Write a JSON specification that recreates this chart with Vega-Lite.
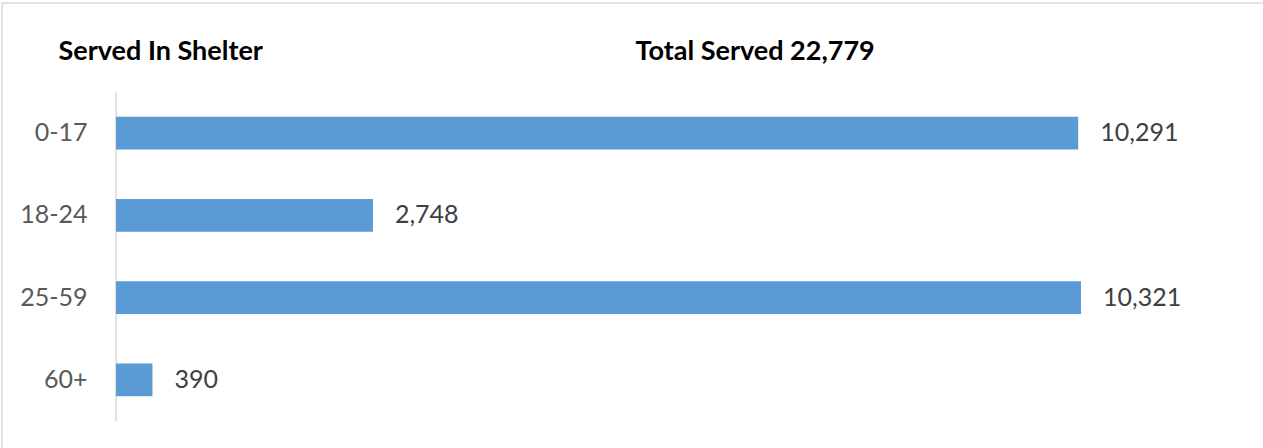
{
  "$schema": "https://vega.github.io/schema/vega-lite/v6.json",
  "autosize": "none",
  "width": 1275,
  "height": 460,
  "padding": {"left": 2, "top": 3, "right": -14, "bottom": -15},
  "background": "white",
  "config": {
    "view": {"stroke": "#d9d9d9", "strokeWidth": 1.5},
    "font": "Lato"
  },
  "data": {
    "values": [
      {"age": "0-17", "served": 10291},
      {"age": "18-24", "served": 2748},
      {"age": "25-59", "served": 10321},
      {"age": "60+", "served": 390}
    ]
  },
  "encoding": {
    "y": {
      "field": "age",
      "type": "nominal",
      "sort": null,
      "scale": {"range": [89, 418], "paddingInner": 0.6, "paddingOuter": 0.3},
      "axis": {
        "orient": "left",
        "offset": -113.5,
        "title": "Served In Shelter",
        "titleAngle": 0,
        "titleAlign": "left",
        "titleBaseline": "alphabetic",
        "titleX": -57.5,
        "titleY": 56,
        "titleFont": "Lato",
        "titleFontSize": 27,
        "titleFontWeight": "bold",
        "titleColor": "#000000",
        "domainColor": "#d9d9d9",
        "domainWidth": 1.5,
        "ticks": false,
        "tickSize": 0,
        "labelPadding": 28.5,
        "labelFont": "Lato",
        "labelFontSize": 25,
        "labelColor": "#595959",
        "grid": false
      }
    },
    "x": {
      "field": "served",
      "type": "quantitative",
      "scale": {"domain": [0, 12000], "range": [114, 1236], "nice": false},
      "axis": {
        "orient": "top",
        "domain": false,
        "labels": false,
        "ticks": false,
        "grid": false,
        "title": "Total Served 22,779",
        "titleAlign": "left",
        "titleAnchor": "start",
        "titleBaseline": "alphabetic",
        "titleX": 633,
        "titleY": 56,
        "titleFont": "Lato",
        "titleFontSize": 27,
        "titleFontWeight": "bold",
        "titleColor": "#000000"
      }
    }
  },
  "layer": [
    {
      "mark": {"type": "bar", "color": "#5b9bd5"}
    },
    {
      "mark": {
        "type": "text",
        "align": "left",
        "baseline": "middle",
        "dx": 22,
        "font": "Lato",
        "fontSize": 25,
        "color": "#404040"
      },
      "encoding": {
        "text": {"field": "served", "type": "quantitative", "format": ","}
      }
    }
  ]
}
